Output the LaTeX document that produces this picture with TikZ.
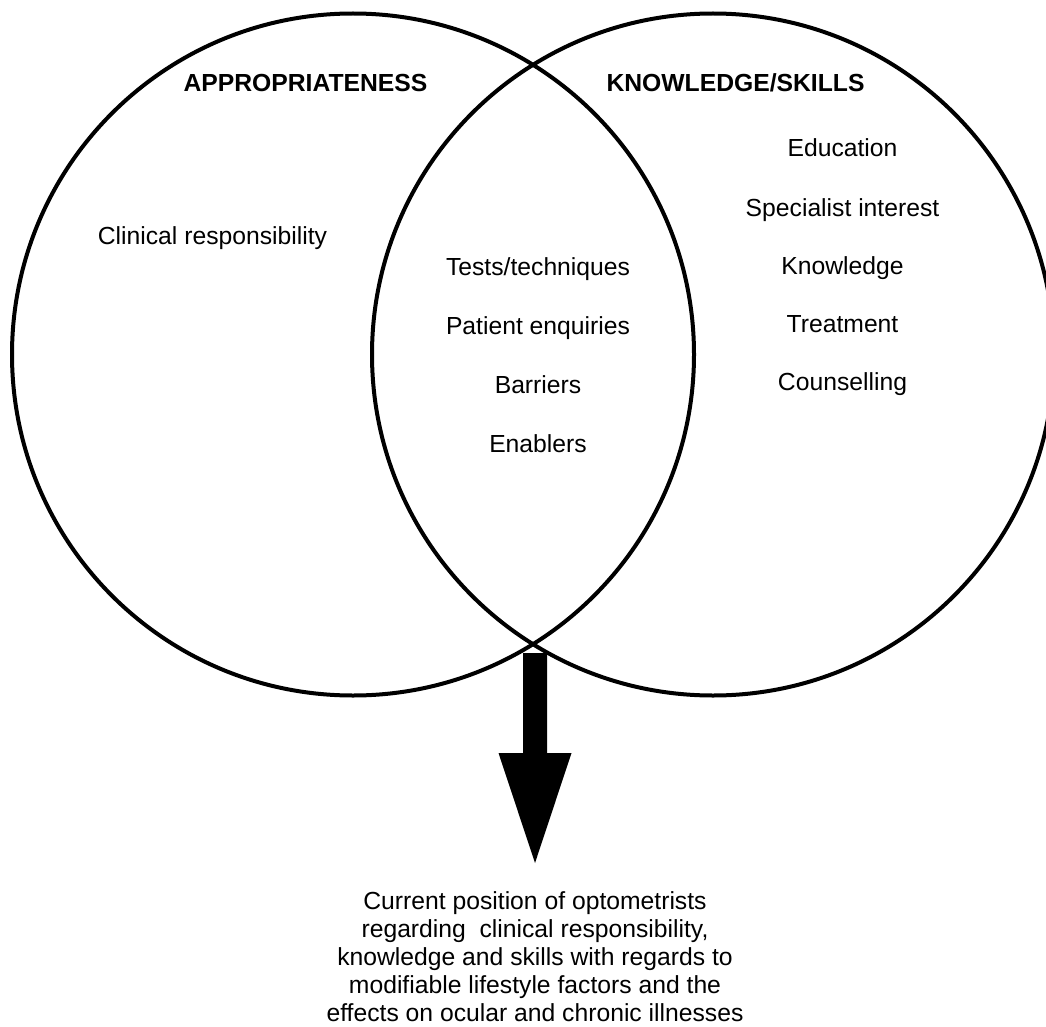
\documentclass[tikz,border=0pt]{standalone}
\usepackage{fontspec}
\setmainfont{Liberation Sans}
\begin{document}
\begin{tikzpicture}[x=1pt,y=-1pt,
  ring/.style={draw=black,line width=4pt},
  item/.style={inner sep=0pt,anchor=base,font=\fontsize{24.7}{28}\selectfont},
  heading/.style={item,font=\fontsize{24.7}{28}\selectfont\bfseries},
  summary/.style={inner sep=0pt,anchor=north,align=center,font=\fontsize{24.7}{28}\selectfont}]
  % page frame
  \fill[white] (0,0) rectangle (1046,1027);
  \useasboundingbox (0,0) rectangle (1046,1027);
  \clip (0,0) rectangle (1046,1027);

  % the two overlapping sets
  \node[ring,circle,minimum size=682pt,inner sep=0pt] (appr) at (353,354.5) {};
  \node[ring,circle,minimum size=682pt,inner sep=0pt] (know) at (713,354.5) {};

  % set headings
  \node[heading] (apprtitle) at (305.5,92) {APPROPRIATENESS};
  \node[heading] (knowtitle) at (735.5,92) {KNOWLEDGE/SKILLS};

  % left-only item
  \node[item] (clinical) at (212.5,244) {Clinical responsibility};

  % shared items
  \node[item] (tests)    at (538,275) {Tests/techniques};
  \node[item] (enquiry)  at (538,334) {Patient enquiries};
  \node[item] (barriers) at (538,393) {Barriers};
  \node[item] (enablers) at (538,452) {Enablers};

  % right-only items
  \node[item] (education)  at (842.5,157) {Education};
  \node[item] (specialist) at (842.5,216) {Specialist interest};
  \node[item] (knowledge)  at (842.5,274) {Knowledge};
  \node[item] (treatment)  at (842.5,332) {Treatment};
  \node[item] (counsel)    at (842.5,390) {Counselling};

  % outcome
  \node[summary] (outcome) at (535,891.5) {Current position of optometrists\\
    regarding\ \ clinical responsibility,\\
    knowledge and skills with regards to\\
    modifiable lifestyle factors and the\\
    effects on ocular and chronic illnesses};

  % block arrow from the overlap down to the outcome
  \coordinate (arrowtop) at (535,653);
  \coordinate (arrowtip) at (535,863);
  \fill[black] (arrowtop) ++(-12,0) -- ++(0,100) -- ++(-24.5,0)
    -- (arrowtip) -- ++(36.5,-110) -- ++(-24.5,0) -- ++(0,-100) -- cycle;
\end{tikzpicture}
\end{document}
